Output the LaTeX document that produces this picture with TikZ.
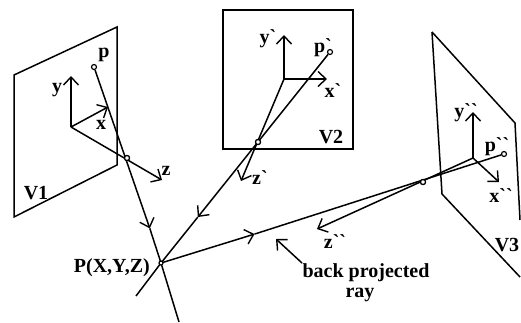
\documentclass[tikz,border=0pt]{standalone}
\usepackage{fontspec}
\setmainfont{Liberation Serif}[Ligatures=TeXOff]
\usetikzlibrary{arrows.meta,calc}
\tikzset{
  edge/.style={line width=1.5pt},
  axis/.style={edge,-{Straight Barb[length=8pt,width=15pt,line width=1.4pt]}},
  hole/.style={circle,draw,line width=1.2pt,fill=white,inner sep=0pt,minimum size=5pt},
  lab/.style={inner sep=0pt,anchor=base,font=\fontsize{20}{22}\selectfont\bfseries},
}
\begin{document}
\begin{tikzpicture}[x=1pt,y=-1pt]
\useasboundingbox (0,0) rectangle (521,322);
\coordinate (P) at (161,263);
% first view
\coordinate (a0) at (14,75);
\coordinate (a1) at (117,27);
\coordinate (a2) at (117,165);
\coordinate (a3) at (14,217);
\draw[edge] (a0)--(a1)--(a2)--(a3)--cycle;
\coordinate (o1) at (71,127);
\coordinate (y1) at (71,76);
\coordinate (x1) at (108,107);
\coordinate (z1) at (162,180);
\draw[axis] (o1)--(y1);
\draw[axis] (o1)--(x1);
\draw[axis] (o1)--(z1);
\coordinate (e1) at (179,322);
\node[hole] (p1) at (94,67) {};
\node[hole] (c1) at (127,158) {};
\coordinate (m1) at ($(c1)!0.67!(P)$);
\draw[axis] (p1)--(m1);
\draw[edge] (m1)--(P)--(e1);
% second view
\coordinate (b0) at (223,10);
\coordinate (b1) at (353,10);
\coordinate (b2) at (353,149);
\coordinate (b3) at (223,149);
\draw[edge] (b0)--(b1)--(b2)--(b3)--cycle;
\coordinate (o2) at (284,79);
\coordinate (y2) at (284,35);
\coordinate (x2) at (327,79);
\coordinate (z2) at (241,181);
\draw[axis] (o2)--(y2);
\draw[axis] (o2)--(x2);
\draw[axis] (o2)--(z2);
\coordinate (e2) at (136,296);
\node[hole] (p2) at (330,52) {};
\node[hole] (c2) at (258,142) {};
\coordinate (m2) at ($(c2)!0.62!(P)$);
\draw[axis] (p2)--(m2);
\draw[edge] (m2)--(P)--(e2);
% third view
\coordinate (d0) at (432,32);
\coordinate (d1) at (515,123);
\coordinate (d2) at (520,220);
\coordinate (d3) at (520,277);
\coordinate (d4) at (442,194);
\draw[edge] (d0)--(d1)--(d2);
\draw[edge] (d0)--(d4)--(d3);
\coordinate (o3) at (473,158);
\coordinate (y3) at (473,112);
\coordinate (x3) at (499,182);
\coordinate (z3) at (317,229);
\draw[axis] (o3)--(y3);
\draw[axis] (o3)--(x3);
\draw[axis] (o3)--(z3);
\node[hole] (p3) at (504,154) {};
\node[hole] (c3) at (423,182) {};
\coordinate (m3) at ($(P)!0.357!(c3)$);
\draw[edge] (p3)--(m3);
\draw[axis] (P)--(m3);
\node[hole,minimum size=4pt] (Pc) at (P) {};
\node[hole] at (c1) {};
\node[hole] at (c2) {};
\node[hole] at (c3) {};
% labels
\node[lab] (la1) at (36,199) {V1};
\node[lab] (lp1) at (104,57) {p};
\node[lab] (ly1) at (57,92) {y};
\node[lab] (lx1) at (101,129) {x};
\node[lab] (lz1) at (166,175) {z};
\node[lab] (la2) at (331,143) {V2};
\node[lab] (lp2) at (323,52) {p`};
\node[lab] (ly2) at (268,43) {y`};
\node[lab] (lx2) at (333,97) {x`};
\node[lab] (lz2) at (260,184) {z`};
\node[lab] (la3) at (507,251) {V3};
\node[lab] (lp3) at (497,151) {p``};
\node[lab] (ly3) at (466,117) {y``};
\node[lab] (lx3) at (501,202) {x``};
\node[lab] (lz3) at (335,248) {z``};
\node[lab,anchor=base east] (lP) at (150,272) {P(X,Y,Z)};
\node[lab] (lr1) at (366,277) {back projected};
\node[lab] (lr2) at (360,297) {ray};
\coordinate (s) at (302,263);
\coordinate (t) at (276,239);
\draw[axis] (s)--(t);
\end{tikzpicture}
\end{document}
